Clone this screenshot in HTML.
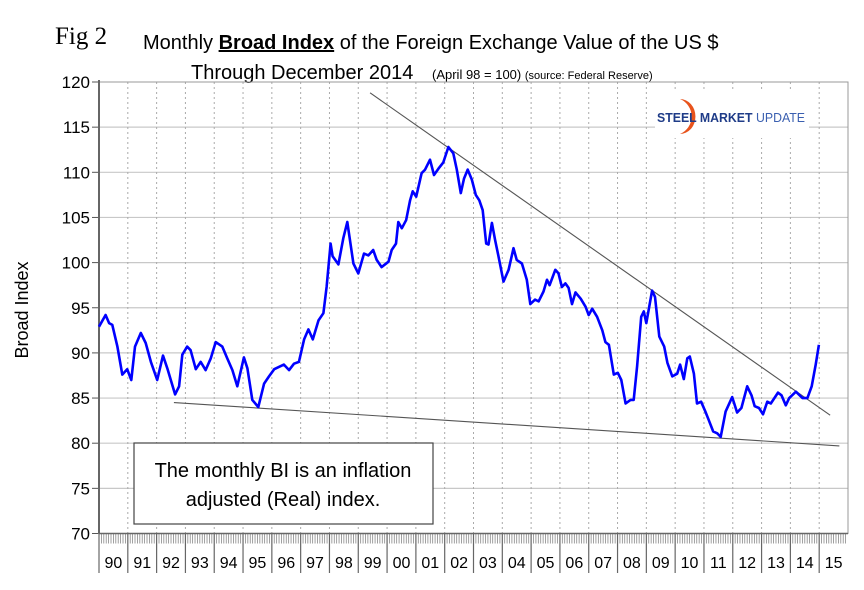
<!DOCTYPE html>
<html><head><meta charset="utf-8"><style>
body{margin:0;background:#fff;}
svg{display:block;font-family:"Liberation Sans",sans-serif;}
</style></head><body>
<svg id="chart" width="864" height="590" viewBox="0 0 864 590" xmlns="http://www.w3.org/2000/svg">
<rect width="864" height="590" fill="#fff"/>
<text x="55" y="44" font-family="Liberation Serif, serif" font-size="25" fill="#000">Fig 2</text>
<text x="143" y="49" font-size="20" fill="#000">Monthly <tspan font-weight="bold" text-decoration="underline">Broad Index</tspan> of the Foreign Exchange Value of the US $</text>
<text x="191" y="79" font-size="20" fill="#000">Through December 2014</text>
<text x="432" y="79" font-size="13" fill="#000">(April 98 = 100) <tspan font-size="11">(source: Federal Reserve)</tspan></text>
<text transform="translate(28,310) rotate(-90)" text-anchor="middle" font-size="18" fill="#000">Broad Index</text>
<g id="grid"></g>
<g id="axes"></g>
<g id="logo">
<rect x="655" y="92" width="154" height="46" fill="#fff"/>
<path d="M680 99 A19 19 0 0 1 680 134 A15 17 0 0 0 680 99 Z" fill="#e8531c"/>
<text x="657" y="122" font-size="12.5" font-weight="bold" fill="#1f3c88" textLength="148" lengthAdjust="spacingAndGlyphs">STEEL MARKET <tspan font-weight="normal" fill="#3a5fb0">UPDATE</tspan></text>
</g>
<g id="trends"></g>
<path id="series" fill="none" stroke="#0000ff" stroke-width="2.6" stroke-linejoin="round"/>
<g>
<rect x="134" y="443" width="299" height="81" fill="#fff" stroke="#444" stroke-width="1.2"/>
<text x="283" y="477" text-anchor="middle" font-size="20" fill="#000">The monthly BI is an inflation</text>
<text x="283" y="506" text-anchor="middle" font-size="20" fill="#000">adjusted (Real) index.</text>
</g>
</svg>
<script>
const dates=[1990.0,1990.23,1990.35,1990.46,1990.64,1990.81,1990.98,1991.12,1991.25,1991.45,1991.62,1991.8,1992.02,1992.22,1992.37,1992.64,1992.78,1992.89,1993.06,1993.18,1993.36,1993.53,1993.7,1993.88,1994.05,1994.28,1994.45,1994.63,1994.8,1995.03,1995.15,1995.32,1995.53,1995.73,1995.9,1996.08,1996.42,1996.6,1996.77,1996.94,1997.12,1997.27,1997.42,1997.62,1997.79,1997.9,1998.04,1998.11,1998.31,1998.48,1998.62,1998.83,1999.0,1999.2,1999.35,1999.52,1999.64,1999.81,2000.05,2000.16,2000.31,2000.39,2000.51,2000.66,2000.8,2000.89,2001.01,2001.2,2001.32,2001.49,2001.63,2001.78,2001.95,2002.13,2002.3,2002.42,2002.56,2002.67,2002.8,2002.94,2003.08,2003.2,2003.32,2003.44,2003.52,2003.64,2003.75,2003.86,2004.04,2004.22,2004.39,2004.5,2004.68,2004.85,2004.97,2005.14,2005.26,2005.43,2005.55,2005.64,2005.84,2005.95,2006.07,2006.19,2006.3,2006.42,2006.54,2006.72,2006.89,2007.0,2007.12,2007.29,2007.47,2007.58,2007.7,2007.87,2008.01,2008.13,2008.28,2008.45,2008.56,2008.68,2008.82,2008.91,2009.0,2009.2,2009.3,2009.45,2009.62,2009.73,2009.9,2010.07,2010.17,2010.3,2010.42,2010.51,2010.65,2010.76,2010.9,2011.05,2011.16,2011.32,2011.46,2011.58,2011.75,2011.98,2012.15,2012.3,2012.5,2012.65,2012.76,2012.91,2013.05,2013.2,2013.32,2013.57,2013.69,2013.84,2013.96,2014.19,2014.42,2014.59,2014.74,2014.88,2014.99];
const values=[92.9,94.2,93.3,93.1,90.7,87.6,88.2,87.0,90.7,92.2,91.1,89.0,87.0,89.7,88.3,85.4,86.3,89.8,90.7,90.3,88.2,89.0,88.1,89.4,91.2,90.7,89.4,88.1,86.3,89.5,88.3,84.8,84.0,86.6,87.4,88.2,88.7,88.1,88.8,89.0,91.5,92.6,91.5,93.6,94.4,97.3,102.1,100.7,99.8,102.7,104.5,99.9,98.8,101.0,100.8,101.4,100.3,99.5,100.1,101.4,102.1,104.5,103.8,104.7,106.9,107.9,107.3,109.9,110.3,111.4,109.7,110.4,111.1,112.8,112.1,110.3,107.7,109.3,110.3,109.2,107.5,106.9,105.8,102.1,102.0,104.4,102.5,100.8,97.9,99.2,101.6,100.3,99.9,98.1,95.4,95.9,95.7,96.8,98.1,97.5,99.2,98.8,97.3,97.7,97.2,95.4,96.7,96.0,95.1,94.2,94.9,94.0,92.5,91.2,90.9,87.6,87.8,87.0,84.4,84.8,84.8,88.5,94.0,94.6,93.3,96.9,96.2,91.8,90.7,88.9,87.4,87.7,88.7,87.1,89.4,89.6,87.7,84.4,84.6,83.5,82.6,81.3,81.1,80.7,83.5,85.1,83.4,83.9,86.3,85.3,84.1,83.9,83.2,84.6,84.4,85.6,85.3,84.2,85.0,85.7,85.0,85.0,86.3,88.7,90.9];
const yTicks=[70,75,80,85,90,95,100,105,110,115,120];
const yearLabels=["90","91","92","93","94","95","96","97","98","99","00","01","02","03","04","05","06","07","08","09","10","11","12","13","14","15"];
const upperTrend=[[1999.41,118.8],[2015.38,83.1]];
const lowerTrend=[[1992.6,84.5],[2015.7,79.7]];

const NS="http://www.w3.org/2000/svg";
const X0=99,X1=848,Y0=82,Y1=533.5;
const xs=t=>X0+(t-1990)*(X1-X0)/26;
const ys=v=>Y1-(v-70)*(Y1-Y0)/50;
function mk(tag,attrs,parent){const e=document.createElementNS(NS,tag);for(const k in attrs)e.setAttribute(k,attrs[k]);parent.appendChild(e);return e;}
const grid=document.getElementById('grid'),axes=document.getElementById('axes'),trends=document.getElementById('trends');
yTicks.forEach(v=>{
  if(v>70&&v<120){const g=mk('line',{x1:X0,x2:X1,y1:ys(v),y2:ys(v),stroke:'#c8c8c8','stroke-width':1.2},grid);
  
  }
  const tk=mk('line',{x1:X0-7,x2:X0,y1:ys(v),y2:ys(v),stroke:'#555','stroke-width':1},axes);
  
  
  const t=mk('text',{x:X0-9,y:ys(v)+6,'text-anchor':'end','font-size':17,fill:'#000'},axes);t.textContent=v;
  
  
});
yearLabels.forEach((lab,i)=>{
  const x=xs(1990+i);
  if(i>0){const g=mk('line',{x1:x,x2:x,y1:Y0,y2:Y1,stroke:'#aaa','stroke-width':1,'stroke-dasharray':'2,3'},grid);
  
  }
  const sep=mk('line',{x1:x,x2:x,y1:Y1,y2:573,stroke:'#666','stroke-width':1.2},axes);
  
  
  for(let m=1;m<12;m++){const xm=xs(1990+i+m/12);mk('line',{x1:xm,x2:xm,y1:Y1,y2:Y1+10,stroke:'#888','stroke-width':0.8},axes);}
  const t=mk('text',{x:xs(1990+i+0.5),y:568,'text-anchor':'middle','font-size':16,fill:'#000'},axes);t.textContent=lab;
  
  
});
mk('rect',{x:X0,y:Y0,width:X1-X0,height:Y1-Y0,fill:'none',stroke:'#999','stroke-width':1},axes);
mk('line',{x1:X0,x2:X0,y1:Y0-2,y2:Y1,stroke:'#666','stroke-width':2},axes);
mk('line',{x1:X0,x2:X1,y1:Y1,y2:Y1,stroke:'#666','stroke-width':1.5},axes);
[[upperTrend,'upper-trendline'],[lowerTrend,'lower-trendline']].forEach(([p,n])=>{
  const l=mk('line',{x1:xs(p[0][0]),y1:ys(p[0][1]),x2:xs(p[1][0]),y2:ys(p[1][1]),stroke:'#555','stroke-width':1.1},trends);
  
  
});
document.getElementById('series').setAttribute('d',dates.map((t,i)=>(i?'L':'M')+xs(t).toFixed(1)+' '+ys(values[i]).toFixed(1)).join(' '));
</script>
</body></html>
